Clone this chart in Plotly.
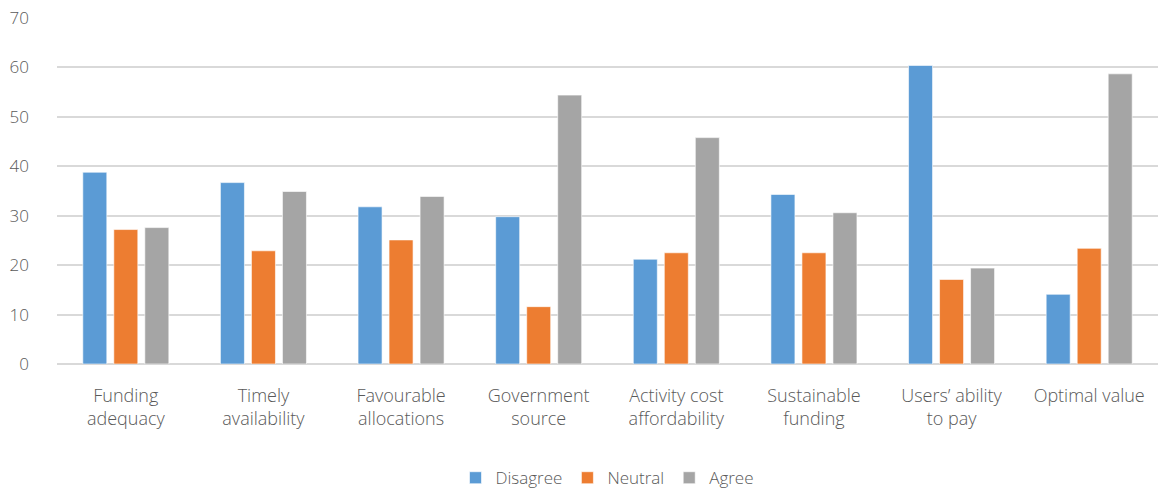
import plotly.graph_objects as go

categories = [
    "Funding<br>adequacy",
    "Timely<br>availability",
    "Favourable<br>allocations",
    "Government<br>source",
    "Activity cost<br>affordability",
    "Sustainable<br>funding",
    "Users’ ability<br>to pay",
    "Optimal value",
]
disagree = [38.8, 36.7, 31.8, 29.8, 21.2, 34.3, 60.4, 14.1]
neutral = [27.2, 22.9, 25.1, 11.6, 22.5, 22.5, 17.1, 23.4]
agree = [27.6, 34.9, 33.9, 54.4, 45.8, 30.6, 19.4, 58.7]

y_ticks = [0, 10, 20, 30, 40, 50, 60, 70]

FONT = "Open Sans, Roboto, Arial, sans-serif"
TEXT = "#595959"

fig = go.Figure()
for name, vals, color in [
    ("Disagree", disagree, "#5B9BD5"),
    ("Neutral", neutral, "#ED7D31"),
    ("Agree", agree, "#A5A5A5"),
]:
    fig.add_trace(go.Bar(
        x=categories, y=vals, name=name,
        marker=dict(color=color, line=dict(color="rgba(255,255,255,0.6)", width=1)),
    ))

fig.update_layout(
    width=1158, height=488,
    margin=dict(l=57, r=0, t=18, b=124, autoexpand=False),
    paper_bgcolor="white", plot_bgcolor="white",
    barmode="group", bargap=0.324, bargroupgap=0.226,
    font=dict(family=FONT, size=17, color=TEXT, weight=300),
    showlegend=True,
    legend=dict(
        orientation="h", x=0.5, xanchor="center", y=-0.33, yanchor="middle",
        font=dict(size=17, color=TEXT, weight=300), itemwidth=30, traceorder="normal",
    ),
)
fig.update_xaxes(
    showgrid=False, showline=False, zeroline=False,
    ticks="", ticklabelstandoff=19,
    tickfont=dict(family=FONT, size=18, color=TEXT, weight=300),
)
fig.update_yaxes(
    range=[0, 70], tickvals=y_ticks, ticktext=[str(v) for v in y_ticks],
    showgrid=True, gridcolor="#D9D9D9", gridwidth=1.5,
    zeroline=True, zerolinecolor="#D9D9D9", zerolinewidth=1.5,
    showline=False, ticks="", ticklabelstandoff=27,
    tickfont=dict(family=FONT, size=17, color=TEXT, weight=300),
)

fig.write_html("out.html")
